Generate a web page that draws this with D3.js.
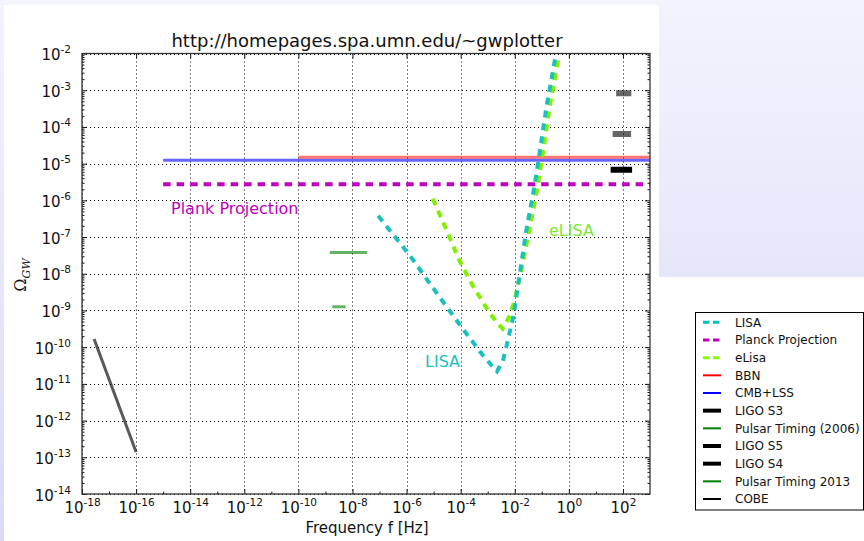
<!DOCTYPE html>
<html>
<head>
<meta charset="utf-8">
<script src="https://cdn.jsdelivr.net/npm/d3@7"></script>
<style>
  body { margin: 0; overflow: hidden; }
  svg { display: block; font-family: "DejaVu Sans", sans-serif; }
</style>
</head>
<body>
<svg id="chart" width="864" height="541"></svg>
<script>
/* values: [frequency Hz, Omega_GW] */
const xTicks = [1e-18, 1e-16, 1e-14, 1e-12, 1e-10, 1e-8, 1e-6, 1e-4, 1e-2, 1e0, 1e2];
const yTicks = [1e-14, 1e-13, 1e-12, 1e-11, 1e-10, 1e-9, 1e-8, 1e-7, 1e-6, 1e-5, 1e-4, 1e-3, 1e-2];

const lisa = [
  [8.9e-8, 3.8e-7], [1.26e-6, 3.3e-8], [1.6e-5, 2.4e-9], [1.26e-4, 3.0e-10],
  [6.3e-4, 6.3e-11], [1.5e-3, 3.0e-11], [2.2e-3, 2.2e-11], [3.6e-3, 4.1e-11],
  [5.0e-3, 1.1e-10], [9.3e-3, 7.9e-10], [1.3e-2, 4.5e-9], [2.7e-2, 1.6e-7],
  [5.4e-2, 2.5e-6], [7.2e-2, 1.0e-5], [8.3e-2, 2.0e-5], [0.148, 3.5e-4],
  [0.234, 2.2e-3], [0.316, 7.9e-3]
];
const elisa = [
  [9.3e-6, 1.1e-6], [2.95e-5, 1.6e-7], [8.7e-5, 2.4e-8], [2.9e-4, 4.5e-9],
  [1.17e-3, 8.5e-10], [2.6e-3, 4.1e-10], [3.55e-3, 3.2e-10], [6.2e-3, 6.6e-10],
  [9.3e-3, 1.6e-9], [1.8e-2, 1.4e-8], [3.5e-2, 1.6e-7], [7.1e-2, 2.5e-6],
  [0.11, 2.0e-5], [0.195, 3.5e-4], [0.31, 2.2e-3], [0.42, 7.9e-3]
];
const planck = [[1e-15, 2.75e-6], [1e3, 2.75e-6]];
const bbn = [[1e-10, 1.5e-5], [1e3, 1.5e-5]];
const cmbLss = [[1e-15, 1.24e-5], [1e3, 1.24e-5]];
const ligoS3 = [[56, 8.3e-4], [204, 8.3e-4]];
const ligoS4 = [[41.5, 6.4e-5], [200, 6.4e-5]];
const ligoS5 = [[35, 6.8e-6], [218, 6.8e-6]];
const pulsar2006 = [[1.45e-9, 3.8e-8], [3.5e-8, 3.8e-8]];
const pulsar2013 = [[1.8e-9, 1.26e-9], [5.6e-9, 1.26e-9]];
const cobe = [[2.8e-18, 1.66e-10], [1e-16, 1.4e-13]];

const legendNames = ["LISA", "Planck Projection", "eLisa", "BBN", "CMB+LSS", "LIGO S3",
  "Pulsar Timing (2006)", "LIGO S5", "LIGO S4", "Pulsar Timing 2013", "COBE"];

const svg = d3.select("#chart");
const W = 864, H = 541;
const plot = { left: 82, right: 650, top: 53.5, bottom: 494 };

/* page background */
const grad = svg.append("defs").append("linearGradient")
  .attr("id", "bg").attr("x1", 0).attr("y1", 0).attr("x2", 0).attr("y2", 1);
grad.append("stop").attr("offset", 0).attr("stop-color", "#f3f3fe");
grad.append("stop").attr("offset", 1).attr("stop-color", "#dadaf6");
svg.append("rect").attr("width", W).attr("height", H).attr("fill", "url(#bg)");
svg.append("rect").attr("x", 4).attr("y", 5).attr("width", 655).attr("height", H - 5).attr("fill", "#fff");
svg.append("rect").attr("x", 659).attr("y", 277).attr("width", W - 659).attr("height", H - 277).attr("fill", "#fff");

svg.select("defs").append("clipPath").attr("id", "clip")
  .append("rect").attr("x", plot.left).attr("y", plot.top)
  .attr("width", plot.right - plot.left).attr("height", plot.bottom - plot.top);

const x = d3.scaleLog().domain([1e-18, 1e3]).range([plot.left, plot.right]);
const y = d3.scaleLog().domain([1e-14, 1e-2]).range([plot.bottom, plot.top]);

/* dotted grid */
const grid = svg.append("g").attr("stroke", "#000").attr("stroke-width", 1).attr("stroke-dasharray", "1,3");
grid.selectAll("line.v").data(xTicks).enter().append("line")
  .attr("x1", d => Math.round(x(d)) + 0.5).attr("x2", d => Math.round(x(d)) + 0.5)
  .attr("y1", plot.top).attr("y2", plot.bottom);
grid.selectAll("line.h").data(yTicks).enter().append("line")
  .attr("y1", d => Math.round(y(d)) + 0.5).attr("y2", d => Math.round(y(d)) + 0.5)
  .attr("x1", plot.left).attr("x2", plot.right);

/* data */
const line = d3.line().x(d => x(d[0])).y(d => y(d[1]));
const data = svg.append("g").attr("clip-path", "url(#clip)").attr("fill", "none");

const draw = (pts, color, width, opts = {}) => {
  data.append("path").datum(pts)
    .attr("d", line)
    .attr("stroke", color)
    .attr("stroke-width", width)
    .attr("stroke-opacity", opts.opacity || 1)
    .attr("stroke-dasharray", opts.dash || null)
    .attr("stroke-linecap", "butt");
};

draw(cobe, "#000", 3, { opacity: 0.65 });
draw(cmbLss, "#0000ff", 3, { opacity: 0.6 });
draw(bbn, "#ff0000", 3, { opacity: 0.55 });
draw(planck, "#bf00bf", 4, { dash: "7.5,6" });
draw(pulsar2006, "#008000", 3, { opacity: 0.6 });
draw(pulsar2013, "#008000", 3, { opacity: 0.6 });
draw(ligoS3, "#000", 6, { opacity: 0.6 });
draw(ligoS4, "#000", 6, { opacity: 0.6 });
draw(ligoS5, "#000", 6);
draw(elisa, "#7ff000", 4, { dash: "7,6" });
draw(lisa, "#1cbfbf", 4, { dash: "7,6" });

/* axes, ticks inward on all four sides */
const supLabel = function (d) {
  const e = Math.round(Math.log10(d));
  const t = d3.select(this).text(null);
  t.append("tspan").text("10");
  t.append("tspan").attr("dy", "-7px").attr("font-size", "10.5px").text(e);
};

const yMinor = [];
yTicks.slice(0, -1).forEach(v => { for (let k = 2; k < 10; k++) yMinor.push(v * k); });
const xMinor = xTicks.map(v => v * 10);

const axB = svg.append("g").attr("transform", `translate(0,${plot.bottom})`)
  .call(d3.axisBottom(x).tickValues(xTicks).tickSizeInner(-5).tickSizeOuter(0));
axB.selectAll(".tick text").attr("y", 19).attr("dy", 0)
  .attr("font-size", "15px").attr("font-family", "DejaVu Sans").attr("fill", "#111").each(supLabel);

const axL = svg.append("g").attr("transform", `translate(${plot.left},0)`)
  .call(d3.axisLeft(y).tickValues(yTicks).tickSizeInner(-5).tickSizeOuter(0).tickPadding(11));
axL.selectAll(".tick text").attr("dy", "6px")
  .attr("font-size", "15px").attr("font-family", "DejaVu Sans").attr("fill", "#111").each(supLabel);

svg.append("g").attr("transform", `translate(0,${plot.top})`)
  .call(d3.axisTop(x).tickValues(xTicks).tickSizeInner(-5).tickSizeOuter(0).tickFormat(""));
svg.append("g").attr("transform", `translate(${plot.right},0)`)
  .call(d3.axisRight(y).tickValues(yTicks).tickSizeInner(-5).tickSizeOuter(0).tickFormat(""));

svg.append("g").attr("transform", `translate(${plot.left},0)`)
  .call(d3.axisLeft(y).tickValues(yMinor).tickSizeInner(-2.5).tickSizeOuter(0).tickFormat(""));
svg.append("g").attr("transform", `translate(${plot.right},0)`)
  .call(d3.axisRight(y).tickValues(yMinor).tickSizeInner(-2.5).tickSizeOuter(0).tickFormat(""));
svg.append("g").attr("transform", `translate(0,${plot.bottom})`)
  .call(d3.axisBottom(x).tickValues(xMinor.filter(v => v < 1e3)).tickSizeInner(-2.5).tickSizeOuter(0).tickFormat(""));

svg.selectAll(".domain").remove();
svg.selectAll(".tick line").attr("stroke", "#111");

svg.append("rect")
  .attr("x", plot.left).attr("y", plot.top)
  .attr("width", plot.right - plot.left).attr("height", plot.bottom - plot.top)
  .attr("fill", "none").attr("stroke", "#333").attr("stroke-width", 1.3);

/* titles and labels */
svg.append("text").attr("x", (plot.left + plot.right) / 2 + 1).attr("y", 46.5)
  .attr("text-anchor", "middle").attr("font-size", "18px").attr("fill", "#111")
  .text("http://homepages.spa.umn.edu/~gwplotter");

svg.append("text").attr("x", 367).attr("y", 533)
  .attr("text-anchor", "middle").attr("font-size", "15px").attr("fill", "#111")
  .text("Frequency f [Hz]");

const yl = svg.append("text").attr("transform", "translate(26,275) rotate(-90)")
  .attr("text-anchor", "middle").attr("font-family", "DejaVu Serif").attr("fill", "#111");
yl.append("tspan").attr("font-size", "16px").text("Ω");
yl.append("tspan").attr("font-size", "11px").attr("font-style", "italic").attr("dy", "4px").text("GW");

svg.append("text").attr("x", 171).attr("y", 213.5).attr("font-size", "16px")
  .attr("fill", "#c000c0").text("Plank Projection");
svg.append("text").attr("x", 425).attr("y", 367).attr("font-size", "16px")
  .attr("fill", "#1cbfbf").text("LISA");
svg.append("text").attr("x", 549).attr("y", 236).attr("font-size", "16px")
  .attr("fill", "#7ae830").text("eLISA");

/* legend */
const legendStyle = {
  "LISA": { c: "#00bfbf", w: 3, dash: "6.5,3.5" },
  "Planck Projection": { c: "#bf00bf", w: 3, dash: "6.5,3.5" },
  "eLisa": { c: "#7fff00", w: 3, dash: "6.5,3.5" },
  "BBN": { c: "#ff0000", w: 2 },
  "CMB+LSS": { c: "#0000ff", w: 2 },
  "LIGO S3": { c: "#000", w: 4 },
  "Pulsar Timing (2006)": { c: "#008000", w: 2 },
  "LIGO S5": { c: "#000", w: 4 },
  "LIGO S4": { c: "#000", w: 4 },
  "Pulsar Timing 2013": { c: "#008000", w: 2 },
  "COBE": { c: "#000", w: 2 }
};
const lg = svg.append("g");
lg.append("rect").attr("x", 695.5).attr("y", 312.5).attr("width", 168).attr("height", 197.5)
  .attr("fill", "#fff").attr("stroke", "#000").attr("stroke-width", 1);
const rows = lg.selectAll("g.row").data(legendNames).enter().append("g")
  .attr("transform", (d, i) => `translate(0,${322.3 + i * 17.67})`);
rows.append("line").attr("x1", 703).attr("x2", 721).attr("y1", 0).attr("y2", 0)
  .attr("stroke", d => legendStyle[d].c).attr("stroke-width", d => legendStyle[d].w)
  .attr("stroke-dasharray", d => legendStyle[d].dash || null);
rows.append("text").attr("x", 735).attr("y", 0).attr("dy", "0.36em")
  .attr("font-size", "12px").attr("fill", "#111").text(d => d);
</script>
</body>
</html>
